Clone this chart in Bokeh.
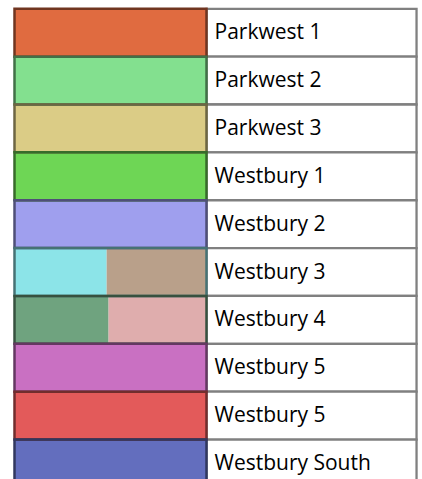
from bokeh.plotting import figure
from bokeh.models import Range1d, ColumnDataSource
from bokeh.core.properties import value
from bokeh.embed import file_html
from bokeh.resources import INLINE

# ---- data ----
labels = ["Parkwest 1", "Parkwest 2", "Parkwest 3", "Westbury 1", "Westbury 2",
          "Westbury 3", "Westbury 4", "Westbury 5", "Westbury 5", "Westbury South"]
left_colors = ["#E06B40", "#83E08F", "#DBCC86", "#6ED655", "#9F9FEE",
               "#8CE4E8", "#6FA37F", "#C970C2", "#E35A5A", "#636EBE"]
right_colors = [None, None, None, None, None,
                "#B9A08A", "#DFADAD", None, None, None]
left_share = [1, 1, 1, 1, 1, 0.48, 0.49, 1, 1, 1]

# ---- styles / helpers ----
def darken(hexc, f=0.5):
    h = hexc.lstrip("#")
    r, g, b = (int(h[i:i + 2], 16) for i in (0, 2, 4))
    return "#%02x%02x%02x" % (int(r * f), int(g * f), int(b * f))

n = len(labels)
rows = list(range(n))
swatch_w = 1.0          # colour column width in data units
text_w = 1.094          # text column width in data units

p = figure(width=422, height=479, output_backend="svg", toolbar_location=None,
           x_range=Range1d(-0.0729, 2.125), y_range=Range1d(9.835, -0.173),
           min_border=0, background_fill_color="white", border_fill_color="white")
p.outline_line_color = None
p.axis.visible = False
p.xgrid.visible = False
p.ygrid.visible = False

# text cells
txt = ColumnDataSource(dict(
    left=[swatch_w] * n, right=[swatch_w + text_w] * n,
    top=[r for r in rows], bottom=[r + 1 for r in rows],
    x=[swatch_w] * n, y=[r + 0.47 for r in rows], label=labels))
p.quad(left="left", right="right", top="top", bottom="bottom", source=txt,
       fill_color="white", line_color="#808080", line_width=2.3, line_join="miter")

# colour swatches (left parts)
lsrc = ColumnDataSource(dict(
    left=[0] * n, right=[s * swatch_w for s in left_share],
    top=rows, bottom=[r + 1 for r in rows], color=left_colors))
p.quad(left="left", right="right", top="top", bottom="bottom", source=lsrc,
       fill_color="color", line_color=None)

# colour swatches (right parts of split rows)
idx = [i for i in rows if right_colors[i] is not None]
rsrc = ColumnDataSource(dict(
    left=[left_share[i] * swatch_w for i in idx], right=[swatch_w] * len(idx),
    top=idx, bottom=[i + 1 for i in idx], color=[right_colors[i] for i in idx]))
p.quad(left="left", right="right", top="top", bottom="bottom", source=rsrc,
       fill_color="color", line_color=None)

# swatch outlines
osrc = ColumnDataSource(dict(
    left=[0] * n, right=[swatch_w] * n, top=rows, bottom=[r + 1 for r in rows],
    lc=[darken(c) for c in left_colors]))
p.quad(left="left", right="right", top="top", bottom="bottom", source=osrc,
       fill_color=None, line_color="lc", line_width=2.5, line_join="miter")

# labels
p.text(x="x", y="y", text="label", source=txt, x_offset=8,
       text_font=value("Open Sans"), text_font_size="21px",
       text_baseline="middle", text_align="left", text_color="#000000")

open("out.html", "w").write(file_html(p, INLINE))
